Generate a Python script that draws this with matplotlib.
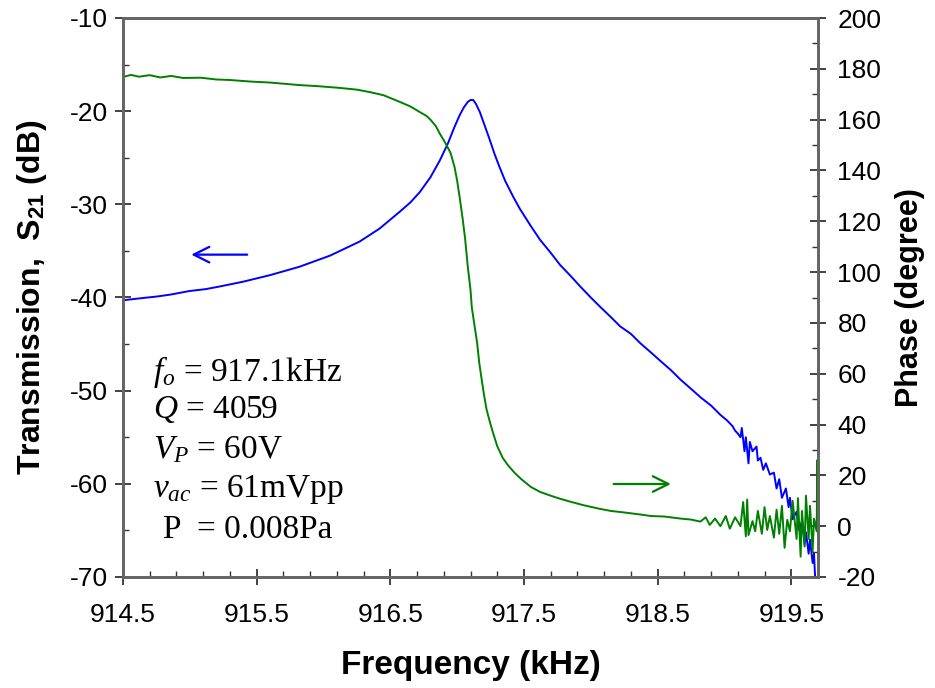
"""
Resonator transmission (S21) and phase vs. frequency, two y axes.
"""
import matplotlib
matplotlib.use("Agg")
import matplotlib.pyplot as plt
from matplotlib.ticker import AutoMinorLocator

plt.rcParams["font.family"] = ["Liberation Sans", "DejaVu Sans"]
plt.rcParams["axes.unicode_minus"] = False
plt.rcParams["mathtext.fontset"] = "custom"
plt.rcParams["mathtext.rm"] = "Liberation Serif"
plt.rcParams["mathtext.it"] = "Liberation Serif:italic"
plt.rcParams["mathtext.bf"] = "Liberation Sans:bold"

# transmission S21 (dB)
s21_freq = [914.50, 914.62, 914.75, 914.85, 915.00, 915.12, 915.23, 915.40, 915.60,
            915.82, 916.05, 916.27, 916.42, 916.57, 916.65, 916.72, 916.80, 916.87,
            916.93, 916.98, 917.02, 917.05, 917.08, 917.10, 917.12, 917.14, 917.17,
            917.20, 917.24, 917.28, 917.32, 917.36, 917.42, 917.47, 917.55, 917.62,
            917.70, 917.77, 917.85, 917.92, 918.00, 918.07, 918.15, 918.22, 918.30,
            918.37, 918.45, 918.52, 918.60, 918.67, 918.75, 918.82, 918.90, 918.97,
            919.02, 919.06, 919.08,
            919.10, 919.12, 919.13, 919.15, 919.16, 919.18, 919.19, 919.21, 919.24,
            919.25, 919.27, 919.29, 919.31, 919.34, 919.37, 919.39, 919.41, 919.43,
            919.46, 919.48, 919.49, 919.51, 919.54, 919.56, 919.58, 919.60, 919.61,
            919.63, 919.64, 919.66, 919.67, 919.68, 919.69]
s21_db = [-40.3, -40.1, -39.9, -39.7, -39.3, -39.1, -38.8, -38.3, -37.6,
          -36.7, -35.5, -34.0, -32.6, -30.8, -29.8, -28.7, -27.1, -25.3,
          -23.5, -21.7, -20.4, -19.6, -19.0, -18.8, -18.8, -19.2, -20.1,
          -21.3, -22.9, -24.6, -26.1, -27.5, -29.2, -30.5, -32.3, -33.8,
          -35.2, -36.5, -37.7, -38.8, -40.0, -41.0, -42.1, -43.1, -43.9,
          -44.9, -45.9, -46.8, -47.8, -48.8, -49.8, -50.7, -51.6, -52.6,
          -53.2, -53.8, -54.3,
          -54.6, -55.0, -54.0, -56.5, -55.0, -57.8, -55.5, -56.5, -56.0,
          -57.5, -57.2, -58.5, -57.8, -59.0, -58.8, -60.5, -59.5, -61.5,
          -60.5, -62.5, -61.5, -63.8, -63.0, -65.0, -64.0, -66.5, -65.2,
          -67.5, -66.0, -68.5, -67.5, -70.5, -70.5]

# phase (degree)
ph_freq = [914.50, 914.56, 914.62, 914.70, 914.78, 914.86, 914.95, 915.08, 915.20,
           915.30, 915.45, 915.60, 915.82, 915.95, 916.12, 916.25, 916.35, 916.45,
           916.57, 916.65, 916.72, 916.77, 916.80, 916.84, 916.87, 916.91, 916.95,
           916.98, 917.00, 917.02, 917.04, 917.06, 917.08, 917.10, 917.11, 917.13,
           917.15, 917.165, 917.18, 917.20, 917.22, 917.245, 917.27, 917.30, 917.34,
           917.38, 917.43, 917.48, 917.55, 917.62, 917.70, 917.77, 917.85, 917.95,
           918.07, 918.15, 918.25, 918.37, 918.45, 918.55, 918.67, 918.75, 918.82,
           918.86, 918.89, 918.93, 918.97, 919.01, 919.04, 919.08, 919.12, 919.14,
           919.16, 919.17, 919.18, 919.21, 919.23, 919.25, 919.28, 919.30, 919.32,
           919.34, 919.37, 919.39, 919.41, 919.43, 919.45, 919.47, 919.49, 919.51,
           919.54, 919.55, 919.57, 919.58, 919.60, 919.61, 919.63, 919.64, 919.66,
           919.67, 919.69, 919.695, 919.70]
ph_deg = [176.8, 177.6, 176.9, 177.5, 176.6, 177.2, 176.4, 176.5, 175.8,
          175.6, 175.0, 174.6, 173.6, 173.2, 172.5, 171.8, 170.8, 169.6,
          167.0, 165.2, 163.0, 161.5, 160.0, 157.5, 154.5, 151.0, 147.0,
          141.5, 136.0, 129.0, 121.5, 113.0, 102.0, 93.0, 86.0, 79.0,
          72.0, 64.5, 59.0, 52.0, 46.0, 41.0, 36.5, 31.5, 27.0,
          24.0, 21.0, 18.5, 15.5, 13.5, 12.0, 10.8, 9.6, 8.2,
          6.8, 6.0, 5.4, 4.6, 4.0, 3.8, 3.0, 2.6, 1.8,
          3.5, 0.5, 3.0, 0.0, 4.0, -1.0, 3.5, 0.0, 9.5,
          -4.0, 10.5, -3.5, 2.0, -2.0, 6.0, -3.0, 7.5, -1.5,
          4.0, -4.5, 6.5, -3.0, 8.0, -8.5, 2.5, -2.0, 10.0,
          -5.0, 11.0, -12.0, 6.0, -8.0, 12.0, -5.0, 8.0, -10.0,
          3.0, -2.0, 26.0, 5.0]

x_ticks = [914.5, 915.5, 916.5, 917.5, 918.5, 919.5]
notes = [(r"$f_o$ = 917.1kHz", 0.043, 0.367),
         (r"$Q$ = 4059", 0.043, 0.299),
         (r"$V_P$ = 60V", 0.043, 0.227),
         (r"$v_{ac}$ = 61mVpp", 0.043, 0.156),
         ("P  = 0.008Pa", 0.058, 0.084)]

fig = plt.figure(figsize=(9.35, 6.88), dpi=100)
ax = fig.add_axes([123 / 935, 111 / 688, 695 / 935, 559 / 688])
ax2 = ax.twinx()

ax.plot(s21_freq, s21_db, color="#0000ff", lw=1.4)
ax2.plot(ph_freq, ph_deg, color="#008000", lw=1.4)

ax.set_xlim(914.5, 919.7)
ax.set_ylim(-70, -10)
ax2.set_ylim(-20, 200)
ax.set_xticks(x_ticks)
ax.set_xticklabels([f"{t:.1f}" for t in x_ticks])
ax.set_yticks(range(-70, -9, 10))
ax2.set_yticks(range(-20, 201, 20))
ax.xaxis.set_minor_locator(AutoMinorLocator(5))
ax.yaxis.set_minor_locator(AutoMinorLocator(2))
ax2.yaxis.set_minor_locator(AutoMinorLocator(2))

for a in (ax, ax2):
    a.tick_params(which="major", direction="inout", length=12, width=1.2,
                  labelsize=19, pad=5, color="#222222")
    a.tick_params(which="minor", direction="in", length=4.5, width=1.0, color="#333333")
    for sp in a.spines.values():
        sp.set_color("#666666")
        sp.set_linewidth(2)
ax.tick_params(axis="x", which="major", pad=13)
ax2.tick_params(axis="y", which="major", pad=8)

ax.set_xlabel("Frequency (kHz)", fontsize=24, fontweight="bold", labelpad=16)
ax.set_ylabel(r"Transmission,  $\mathbf{S}_{\mathbf{21}}$ (dB)", fontsize=23,
              fontweight="bold", labelpad=15)
ax2.set_ylabel("Phase (degree)", fontsize=22, fontweight="bold", labelpad=10)

ax.annotate("", xy=(914.99, -35.4), xytext=(915.45, -35.4),
            arrowprops=dict(arrowstyle="->", color="#0000ff", lw=1.6, mutation_scale=28))
ax2.annotate("", xy=(918.62, 16.6), xytext=(918.15, 16.6),
             arrowprops=dict(arrowstyle="->", color="#008000", lw=1.6, mutation_scale=28))

for txt, tx, ty in notes:
    ax.text(tx, ty, txt, transform=ax.transAxes, fontsize=24, va="center",
            family="Liberation Serif")

fig.savefig("out.png", dpi=100)
